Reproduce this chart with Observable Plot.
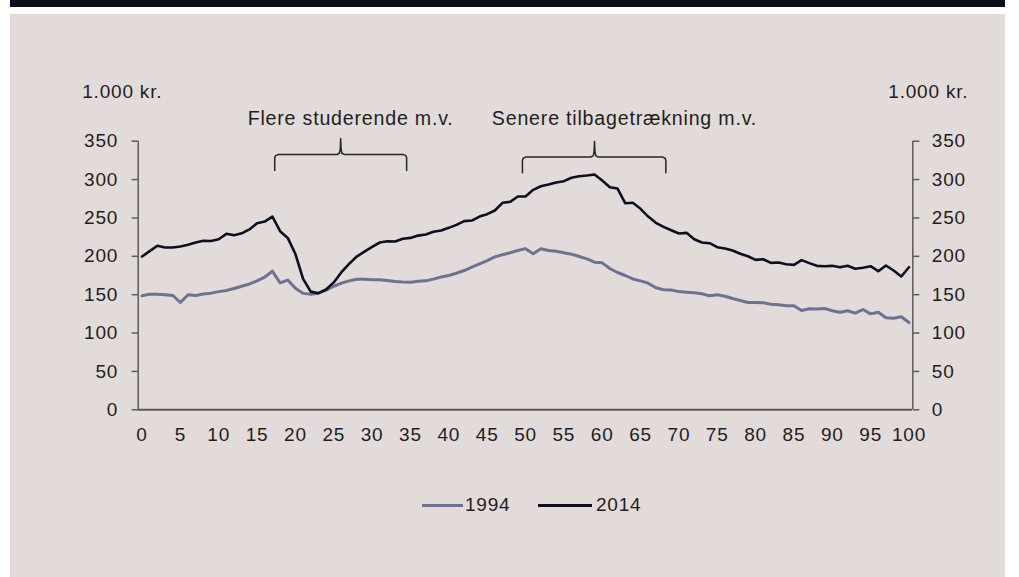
<!DOCTYPE html>
<html>
<head>
<meta charset="utf-8">
<script src="https://cdn.jsdelivr.net/npm/d3@7"></script>
<script src="https://cdn.jsdelivr.net/npm/@observablehq/plot@0.6"></script>
<style>
  body { margin: 0; background: #ffffff; }
  #wrap { position: relative; width: 1019px; height: 577px; overflow: hidden; font-family: "Liberation Sans", Arial, sans-serif; }
  #topbar { position: absolute; left: 10px; top: 0; width: 995px; height: 7px; background: #0b0d1d; }
  #panel { position: absolute; left: 10px; top: 14px; width: 995px; height: 563px; background: #e2dbd9; }
  #chart { position: absolute; left: 0; top: 0; }
  #legend { position: absolute; top: 493px; left: 0; width: 1019px; height: 24px; font-size: 19px; letter-spacing: 0.8px; color: #1e1e1e; }
  #legend .sw { position: absolute; top: 11px; height: 3px; }
  #legend .lb { position: absolute; top: 0; line-height: 24px; }
</style>
</head>
<body>
<div id="wrap">
  <div id="topbar"></div>
  <div id="panel"></div>
  <div id="chart"></div>
  <div id="legend"></div>
</div>
<script>
// ---- data ----
const v1994 = [148.5,150.7,150.7,150,149,139.8,150,149,151,152,154,155.5,158,161,164,168,173,180.6,165.4,169,158.5,151.7,150.7,152,156,161,
  165,168,170,170,169.5,169.4,168.5,167.2,166.5,166.3,167.6,168,170.3,173,175,178,181.5,185.8,190.2,194.5,199.3,202,204.6,207.6,
  210,203.3,209.8,207.6,206.7,204.6,202.8,199.7,196.7,192.3,191.5,184.1,178.9,175,170.5,168,165,159,156.5,156,154,153.3,152.5,151.3,
  148.5,150,148,145,142.4,139.8,139.8,139.4,137.6,136.8,135.5,135.5,129.4,131.6,131.2,132,129,127.2,129,125.9,130.7,125,127.2,119.9,119.4,121.2,113.7];
const v2014 = [199.7,206.7,213.7,211.5,211.5,212.8,215,218,220.2,220,222.3,229.3,227.5,230,235,243,245.3,251.8,232.7,224,203,170.7,154,152,156.7,166,
  179.3,190.2,199.7,206.2,212.3,218,219.7,219.3,222.8,224,227,228.4,231.9,233.6,237.1,241,245.8,246.6,251.8,254.9,259.7,269.7,271,277.9,
  277.9,286.6,291.3,293.6,296.2,297.9,302.3,304.4,305.3,306.6,298.8,290,288.3,269.2,269.7,261.9,251.8,243.6,238.4,234,229.7,230.6,222.3,218,
  217.1,211.9,210.2,207.6,203.3,200.1,195.4,196.2,191.5,191.9,189.7,188.9,195,191.1,187.6,187.1,187.6,185.8,187.6,183.7,185,187.1,180.6,188,181.5,173.7,185.8];
const seriesNames = ["1994", "2014"];
const seriesColors = ["#6f7190", "#0d0f1f"];
const xTicks = [0,5,10,15,20,25,30,35,40,45,50,55,60,65,70,75,80,85,90,95,100];
const yTicks = [0,50,100,150,200,250,300,350];
const unitLabel = "1.000 kr.";
// annotations: label, bracket start, end, middle (age), bracket level, end level, tip level
const annLabels = ["Flere studerende m.v.", "Senere tilbagetrækning m.v."];
const annLabelX = [27.2, 62.9];
const annLabelY = [379, 379];
const brStart = [17.3, 49.6];
const brEnd = [34.5, 68.3];
const brMid = [25.9, 59.0];
const brLevel = [332.6, 329.3];
const brFoot = [311.8, 309];
const brTip = [353.5, 349.6];

// ---- build tables ----
const rows = [];
[v1994, v2014].forEach((arr, s) => arr.forEach((v, i) => rows.push({age: i, value: v, series: seriesNames[s]})));

const bracketPts = [];
annLabels.forEach((_, k) => {
  const x0 = brStart[k], x1 = brEnd[k], xm = brMid[k], yh = brLevel[k], yf = brFoot[k], yt = brTip[k];
  const pts = [
    [x0, yf], [x0, yh - 4], [x0 + 0.1, yh - 1.5], [x0 + 0.4, yh],
    [xm - 0.5, yh], [xm - 0.15, yh + 2], [xm - 0.05, yh + 8], [xm, yt],
    [xm + 0.05, yh + 8], [xm + 0.15, yh + 2], [xm + 0.5, yh],
    [x1 - 0.4, yh], [x1 - 0.1, yh - 1.5], [x1, yh - 4], [x1, yf]
  ];
  pts.forEach(([x, y]) => bracketPts.push({id: k, x, y}));
});
const annRows = annLabels.map((t, k) => ({text: t, x: annLabelX[k], y: annLabelY[k]}));

const axisColor = "#5a5a5a";
const textColor = "#1e1e1e";

const chart = Plot.plot({
  width: 1019,
  height: 470,
  marginLeft: 137.7,
  marginRight: 106.7,
  marginTop: 140.7,
  marginBottom: 60.7,
  x: {domain: [-0.5, 100.5]},
  y: {domain: [0, 350]},
  style: {background: "transparent", fontFamily: "'Liberation Sans', Arial, sans-serif", fontSize: "19px", letterSpacing: "0.8px", color: textColor, overflow: "visible"},
  marks: [
    Plot.axisY({anchor: "left", ticks: yTicks, tickSize: 6, tickPadding: 14, label: null, stroke: axisColor, strokeWidth: 1.5, fill: textColor}),
    Plot.axisY({anchor: "right", ticks: yTicks, tickSize: 6, tickPadding: 13, label: null, stroke: axisColor, strokeWidth: 1.5, fill: textColor}),
    Plot.axisX({ticks: xTicks, tickSize: 0, tickPadding: 18, label: null, fill: textColor}),
    Plot.ruleX([-0.5, 100.5], {y1: 0, y2: 350, stroke: axisColor, strokeWidth: 1.5}),
    Plot.ruleY([0], {x1: -0.5, x2: 100.5, stroke: axisColor, strokeWidth: 2}),
    Plot.line(rows.filter(d => d.series === "1994"), {x: "age", y: "value", stroke: seriesColors[0], strokeWidth: 3, strokeLinejoin: "round"}),
    Plot.line(rows.filter(d => d.series === "2014"), {x: "age", y: "value", stroke: seriesColors[1], strokeWidth: 2.6, strokeLinejoin: "round"}),
    Plot.line(bracketPts, {x: "x", y: "y", z: "id", stroke: "#262626", strokeWidth: 1.5, curve: "linear"}),
    Plot.text(annRows, {x: "x", y: "y", text: "text", textAnchor: "middle", lineAnchor: "middle", fill: textColor, fontSize: 19.6}),
    Plot.text([unitLabel], {x: -7.8, y: 413.8, text: d => d, textAnchor: "start", lineAnchor: "middle", fill: textColor}),
    Plot.text([unitLabel], {x: 97.3, y: 413.8, text: d => d, textAnchor: "start", lineAnchor: "middle", fill: textColor})
  ]
});
document.getElementById("chart").appendChild(chart);

// ---- legend ----
const legend = document.getElementById("legend");
const legendLayout = [{sw: 422, sww: 41, lb: 465}, {sw: 538, sww: 54, lb: 596}];
seriesNames.forEach((name, i) => {
  const sw = document.createElement("div");
  sw.className = "sw";
  sw.style.left = legendLayout[i].sw + "px";
  sw.style.width = legendLayout[i].sww + "px";
  sw.style.background = seriesColors[i];
  legend.appendChild(sw);
  const lb = document.createElement("div");
  lb.className = "lb";
  lb.style.left = legendLayout[i].lb + "px";
  lb.textContent = name;
  legend.appendChild(lb);
});
</script>
</body>
</html>
